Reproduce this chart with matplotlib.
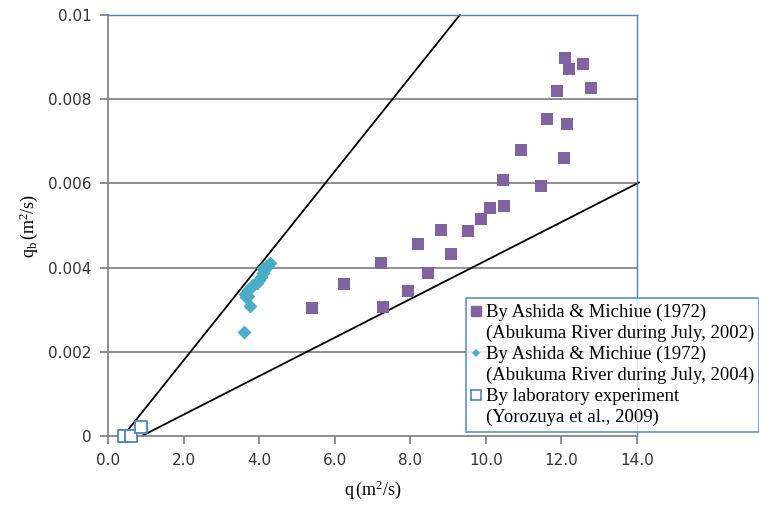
import matplotlib
matplotlib.use("Agg")
import matplotlib.pyplot as plt
from matplotlib.lines import Line2D

plt.rcParams["mathtext.fontset"] = "custom"
plt.rcParams["mathtext.rm"] = "Liberation Serif"
plt.rcParams["mathtext.it"] = "Liberation Serif:italic"

# Abukuma River, July 2002 (Ashida & Michiue 1972)
q_2002 = [5.40, 6.25, 7.23, 7.27, 7.93, 8.20, 8.48, 8.81, 9.08, 9.54, 9.87, 10.11,
          10.46, 10.48, 10.94, 11.46, 11.62, 11.88, 12.06, 12.15, 12.09, 12.21, 12.56, 12.77]
qb_2002 = [0.00303, 0.00360, 0.00410, 0.00307, 0.00344, 0.00457, 0.00386, 0.00490,
           0.00432, 0.00487, 0.00515, 0.00542, 0.00609, 0.00547, 0.00679, 0.00593,
           0.00753, 0.00820, 0.00660, 0.00742, 0.00897, 0.00872, 0.00883, 0.00826]

# Abukuma River, July 2004 (Ashida & Michiue 1972)
q_2004 = [3.59, 3.75, 3.66, 3.63, 3.71, 3.78, 3.85, 3.93, 3.99, 4.04, 4.11, 4.14,
          4.18, 4.23, 4.30, 4.09, 3.71]
qb_2004 = [0.00246, 0.00308, 0.00330, 0.00338, 0.00346, 0.00353, 0.00358, 0.00364,
           0.00370, 0.00378, 0.00386, 0.00394, 0.00402, 0.00406, 0.00411, 0.00398, 0.00332]

# Laboratory experiment (Yorozuya et al., 2009)
q_lab = [0.42, 0.62, 0.88]
qb_lab = [0.0, 0.0, 0.00021]

# Envelope lines
upper_x = [0.40, 9.31]
upper_y = [0.0, 0.010]
lower_x = [0.89, 14.05]
lower_y = [0.0, 0.00602]

x_ticks = [0, 2, 4, 6, 8, 10, 12, 14]
x_ticklabels = ["0.0", "2.0", "4.0", "6.0", "8.0", "10.0", "12.0", "14.0"]
y_ticks = [0, 0.002, 0.004, 0.006, 0.008, 0.01]
y_ticklabels = ["0", "0.002", "0.004", "0.006", "0.008", "0.01"]

legend_labels = [
    ("By Ashida & Michiue (1972)", "(Abukuma River during July, 2002)"),
    ("By Ashida & Michiue (1972)", "(Abukuma River during July, 2004)"),
    ("By laboratory experiment", "(Yorozuya et al., 2009)"),
]

purple = "#8064A2"
cyan = "#4BACC6"
blue = "#4F81BD"
gray = "#868686"

fig = plt.figure(figsize=(7.59, 5.2), dpi=100)
ax = fig.add_axes([0.1423, 0.1615, 0.6970, 0.8097])

ax.set_xlim(0, 14)
ax.set_ylim(0, 0.01)

for y in y_ticks[1:-1]:
    ax.axhline(y, color=gray, lw=1.3, zorder=1)

ax.plot(upper_x, upper_y, color="black", lw=1.3, zorder=2, clip_on=False)
ax.plot(lower_x, lower_y, color="black", lw=1.3, zorder=2, clip_on=False)

ax.scatter(q_2002, qb_2002, marker="s", s=85, color=purple, zorder=3, linewidths=0)
ax.scatter(q_2004, qb_2004, marker="D", s=50, color=cyan, zorder=3, linewidths=0)
ax.scatter(q_lab, qb_lab, marker="s", s=70, facecolor="white", edgecolor=blue,
           linewidths=1.3, zorder=4, clip_on=False)

ax.set_xticks(x_ticks)
ax.set_xticklabels(x_ticklabels)
ax.set_yticks(y_ticks)
ax.set_yticklabels(y_ticklabels)
ax.tick_params(axis="both", direction="out", length=6, width=1.3, color=gray,
               labelsize=11, labelcolor="#333333", pad=6)

ax.spines["left"].set_color(gray)
ax.spines["bottom"].set_color(gray)
ax.spines["left"].set_linewidth(1.3)
ax.spines["bottom"].set_linewidth(1.3)
ax.spines["top"].set_color(blue)
ax.spines["right"].set_color(blue)
ax.spines["top"].set_linewidth(1.0)
ax.spines["right"].set_linewidth(1.0)

ax.set_xlabel(r"$\mathrm{q\,(m^{2}/s)}$", fontsize=13, labelpad=8)
ax.set_ylabel(r"$\mathrm{q_{b}\,(m^{2}/s)}$", fontsize=13, labelpad=6)

# Legend: marker sits beside the first line of each two-line entry
marker_handles = [
    Line2D([], [], marker="s", ls="none", color=purple, markersize=6.5),
    Line2D([], [], marker="D", ls="none", color=cyan, markersize=4.5, markeredgewidth=0),
    Line2D([], [], marker="s", ls="none", markerfacecolor="white", markeredgecolor=blue,
           markersize=6.5, markeredgewidth=1.2),
]
blank = Line2D([], [], ls="none", marker=None)
handles, labels = [], []
for h, (first, second) in zip(marker_handles, legend_labels):
    handles += [h, blank]
    labels += [first, second]

leg = fig.legend(handles, labels, loc="lower left",
                 bbox_to_anchor=(466 / 759, (520 - 432) / 520, 293 / 759, 142 / 520),
                 mode="expand", borderaxespad=0, frameon=True, fancybox=False,
                 handlelength=0.45, handletextpad=0.3, borderpad=0.3, labelspacing=0.2,
                 prop={"family": "Liberation Serif", "size": 13.5})
leg.get_frame().set_edgecolor(blue)
leg.get_frame().set_linewidth(1.3)

fig.savefig("out.png", dpi=100)
